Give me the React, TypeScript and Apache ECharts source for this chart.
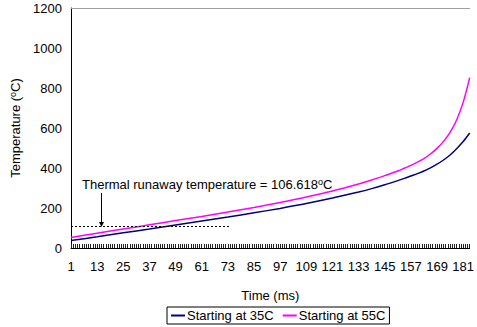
import React, { useEffect, useRef } from "react";
import * as echarts from "echarts";

const categories: string[] = [];
for (let i = 1; i <= 184; i++) categories.push(String(i));

// [time (ms), temperature]
const start35: [number, number][] = [
  [1, 37], [13, 56], [25, 76], [37, 95], [49, 115], [61, 135], [73, 155],
  [85, 176], [97, 198], [109, 222], [121, 250], [133, 280], [139, 297],
  [145, 316], [151, 337], [154, 348], [157, 360], [160, 372], [163, 385],
  [166, 401], [169, 419], [172, 440], [175, 465], [178, 496], [181, 532], [184, 575],
];
const start55: [number, number][] = [
  [1, 53], [13, 74], [25, 95], [37, 116], [49, 137], [61, 158], [73, 180],
  [85, 203], [97, 228], [109, 255], [121, 285], [133, 320], [139, 340],
  [145, 362], [151, 385], [154, 399], [157, 413], [160, 429], [163, 447],
  [166, 470], [169, 498], [172, 533], [175, 578], [178, 640], [181, 728], [184, 852],
];
const runawayTemp = 106.618;
const runawayLineEnd = 74; // ms
const arrowAt = 15; // ms
const arrowTop = 275;
const arrowBottom = 118;

const FONT = "Liberation Sans, Arial, sans-serif";

export default function App() {
  const ref = useRef<HTMLDivElement>(null);
  useEffect(() => {
    if (!ref.current) return;
    const chart = echarts.init(ref.current, undefined, { renderer: "svg" });
    const toIdx = (d: [number, number][]) => d.map(([t, v]) => [t - 1, v]);
    chart.setOption({
      animation: false,
      textStyle: { fontFamily: FONT, color: "#000" },
      grid: { left: 71, right: 0, top: 8, bottom: 79 },
      xAxis: [
        {
          type: "category",
          data: categories,
          boundaryGap: false,
          name: "Time (ms)",
          nameLocation: "middle",
          nameGap: 41,
          nameTextStyle: { fontFamily: FONT, fontSize: 13, color: "#000" },
          axisLine: { lineStyle: { color: "#000", width: 1 } },
          axisTick: { show: true, interval: 0, inside: true, length: 4, lineStyle: { color: "#222" } },
          axisLabel: { interval: 11, margin: 12, fontFamily: FONT, fontSize: 13, color: "#000" },
          splitLine: { show: false },
        },
        {
          type: "category",
          data: categories,
          boundaryGap: false,
          position: "top",
          axisLine: { show: true, lineStyle: { color: "#a0a0a0", width: 1 } },
          axisTick: { show: false },
          axisLabel: { show: false },
          splitLine: { show: false },
        },
      ],
      yAxis: {
        type: "value",
        min: 0,
        max: 1200,
        interval: 200,
        name: "{n|Temperature (}{s|o}{n|C)}",
        nameLocation: "middle",
        nameGap: 44,
        nameRotate: 90,
        nameTextStyle: {
          rich: {
            n: { fontFamily: FONT, fontSize: 13, color: "#000" },
            s: { fontFamily: FONT, fontSize: 9, color: "#000", verticalAlign: "top", padding: [0, 0, 6, 0] },
          },
        },
        axisLine: { show: true, lineStyle: { color: "#000", width: 1 } },
        axisTick: { show: false },
        axisLabel: { margin: 9, fontFamily: FONT, fontSize: 13, color: "#000", formatter: (v: number) => String(v) },
        splitLine: { show: false },
      },
      legend: {
        bottom: 3,
        left: 167,
        orient: "horizontal",
        icon: "rect",
        itemWidth: 14,
        itemHeight: 2,
        itemGap: 9,
        padding: [2, 4, 2, 4],
        borderColor: "#000",
        borderWidth: 1,
        textStyle: { fontFamily: FONT, fontSize: 13, color: "#000", padding: [0, 0, 0, -3] },
        data: ["Starting at 35C", "Starting at 55C"],
      },
      series: [
        {
          name: "Starting at 35C",
          type: "line",
          data: toIdx(start35),
          smooth: 0.3,
          showSymbol: false,
          symbol: "none",
          itemStyle: { color: "#000080" },
          lineStyle: { color: "#000080", width: 1.5 },
          markLine: {
            silent: true,
            symbol: ["none", "none"],
            label: { show: false },
            lineStyle: { color: "#000", type: [2, 2], width: 1 },
            data: [
              [
                { coord: [0, runawayTemp] },
                { coord: [runawayLineEnd - 1, runawayTemp] },
              ],
              [
                { coord: [arrowAt - 1, arrowTop], symbol: "none", lineStyle: { type: "solid", color: "#000", width: 1 } },
                { coord: [arrowAt - 1, arrowBottom], symbol: "triangle", symbolSize: 5, symbolRotate: 180 },
              ],
            ],
          },
        },
        {
          name: "Starting at 55C",
          type: "line",
          data: toIdx(start55),
          smooth: 0.3,
          showSymbol: false,
          symbol: "none",
          itemStyle: { color: "#ff00ff" },
          lineStyle: { color: "#ff00ff", width: 1.5 },
        },
      ],
      graphic: [
        {
          type: "text",
          left: 82,
          top: 177,
          style: {
            text: "{n|Thermal runaway temperature = 106.618}{s|o}{n|C}",
            rich: {
              n: { fontFamily: FONT, fontSize: 13, fill: "#000", color: "#000" },
              s: { fontFamily: FONT, fontSize: 9, fill: "#000", color: "#000", verticalAlign: "top", padding: [0, 0, 6, 0] },
            },
          },
        },
      ],
    });
    return () => chart.dispose();
  }, []);
  return (
    <div
      ref={ref}
      style={{ position: "fixed", left: 0, top: 0, width: 477, height: 327, background: "#fff" }}
    />
  );
}
